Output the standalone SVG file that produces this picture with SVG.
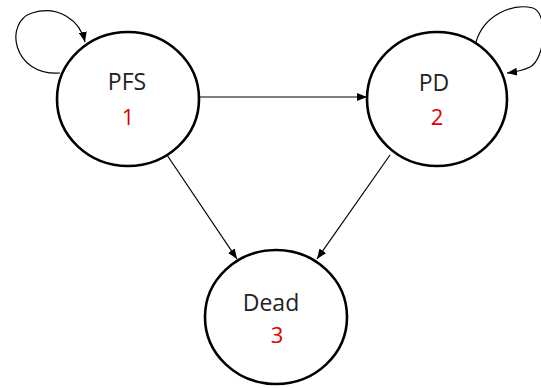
<svg xmlns="http://www.w3.org/2000/svg" width="541" height="388" viewBox="0 0 541 388">
<style>
.node{fill:#fff;stroke:#000;stroke-width:2.6}
.lbl{font-family:"Open Sans","Noto Sans",sans-serif;font-size:23px;fill:#222;text-anchor:middle}
.num{font-family:"Open Sans","Noto Sans",sans-serif;font-size:22px;fill:#e00000;text-anchor:middle}
.edge{fill:none;stroke:#000;stroke-width:1.2;marker-end:url(#arr)}
</style>
<defs>
<marker id="arr" viewBox="0 0 10 8" refX="10" refY="4" markerWidth="10" markerHeight="8" markerUnits="userSpaceOnUse" orient="auto">
<path d="M0,0 L10,4 L0,8 Z" fill="#000"/>
</marker>
</defs>
<g id="connectors">
<path class="edge" d="M60,73 C12,76 4,22 32,13 C58,5 80,20 85,42"/>
<path class="edge" d="M476,42 C484,15 512,3 533,8 C548,13 546,58 530,67 C522,71 515,72 507,73"/>
<path class="edge" d="M199,97 L367,97"/>
<path class="edge" d="M167,155 L237,259"/>
<path class="edge" d="M390,155 L317,259"/>
</g>
<g id="node1">
<ellipse class="node" cx="128" cy="99" rx="71" ry="67"/>
<text class="lbl" x="127" y="90">PFS</text>
<text class="num" x="128" y="125">1</text>
</g>
<g id="node2">
<ellipse class="node" cx="437" cy="99" rx="70" ry="67"/>
<text class="lbl" x="434" y="91">PD</text>
<text class="num" x="437" y="125">2</text>
</g>
<g id="node3">
<ellipse class="node" cx="276" cy="317" rx="71" ry="67"/>
<text class="lbl" x="271" y="311">Dead</text>
<text class="num" x="277" y="343">3</text>
</g>
</svg>
